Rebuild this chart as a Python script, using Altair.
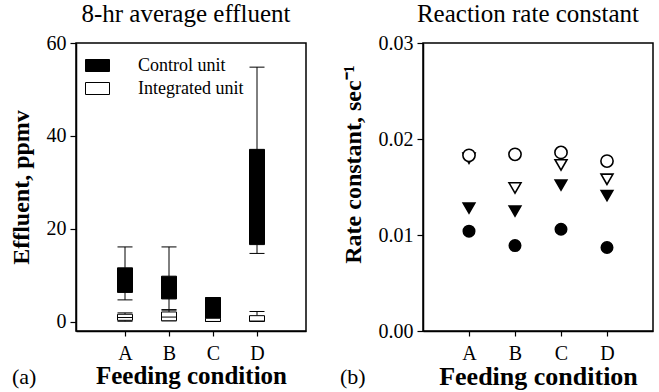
import altair as alt
import pandas as pd

# ---------------- data ----------------
conds = ["A", "B", "C", "D"]
cond_pos = [1, 2, 3, 4]
units = ["Control unit", "Integrated unit"]

# panel (a): box plots of 8-hr average effluent (ppmv)
ctrl_low = [4.7, 2.6, 0.8, 14.7]
ctrl_q1 = [6.3, 4.9, 0.8, 16.6]
ctrl_med = [9.0, 7.5, 3.0, 25.0]
ctrl_q3 = [11.6, 9.8, 5.2, 37.1]
ctrl_high = [16.1, 16.1, 5.2, 54.8]

int_low = [0.1, 0.2, 0.05, 0.1]
int_q1 = [0.3, 0.2, 0.05, 0.1]
int_med = [0.9, 1.0, 0.05, 0.1]
int_q3 = [1.6, 2.1, 0.75, 1.3]
int_high = [1.9, 2.5, 0.75, 2.2]

# panel (b): reaction rate constants (1/sec)
series = ["Control, filled circle", "Control, filled triangle",
          "Integrated, open triangle", "Integrated, open circle"]
k_filled_circle = [0.0104, 0.0089, 0.0106, 0.0087]
k_filled_tri = [0.0128, 0.0125, 0.0152, 0.0141]
k_open_tri = [0.0180, 0.0149, 0.0173, 0.0158]
k_open_circle = [0.0183, 0.0184, 0.0186, 0.0177]

panel_titles = ["8-hr average effluent", "Reaction rate constant"]
panel_tags = ["(a)", "(b)"]
y_titles = ["Effluent, ppmv", "Rate constant, sec\u207b\u00b9"]
x_title = "Feeding condition"
yticks_a = [0, 20, 40, 60]
yticks_b = [0.00, 0.01, 0.02, 0.03]

FONT = "Liberation Serif"
W, H = 230, 288

# ---------------- tables ----------------
rows = []
for u, lo, q1, md, q3, hi in [
    (units[0], ctrl_low, ctrl_q1, ctrl_med, ctrl_q3, ctrl_high),
    (units[1], int_low, int_q1, int_med, int_q3, int_high),
]:
    for i, c in enumerate(conds):
        rows.append(dict(cond=c, pos=cond_pos[i], unit=u, low=lo[i], q1=q1[i],
                         med=md[i], q3=q3[i], high=hi[i]))
box_df = pd.DataFrame(rows)

pts = []
for s, vals in zip(series, [k_filled_circle, k_filled_tri, k_open_tri, k_open_circle]):
    for i, c in enumerate(conds):
        pts.append(dict(cond=c, pos=cond_pos[i], series=s, k=vals[i]))
pt_df = pd.DataFrame(pts)

label_expr = "[" + ",".join("'%s'" % c for c in conds) + "][datum.value - 1]"

x_scale = alt.Scale(domain=[0, 5], nice=False, zero=False)


def x_axis(fs):
    return alt.Axis(values=cond_pos, labelExpr=label_expr, title=x_title,
                    tickSize=5, labelPadding=7, titlePadding=0, titleFontSize=fs)


# ---------------- panel (a) ----------------
base_a = alt.Chart(box_df)
ya_scale = alt.Scale(domain=[-2, 60], nice=False, zero=False)
ya_axis = alt.Axis(values=yticks_a, title=y_titles[0], titlePadding=13,
                   labelPadding=4)

whisk_lo = base_a.mark_rule(color="black", strokeWidth=1).encode(
    x=alt.X("pos:Q", scale=x_scale, axis=x_axis(25)),
    y=alt.Y("low:Q", scale=ya_scale, axis=ya_axis), y2="q1:Q")
whisk_hi = base_a.mark_rule(color="black", strokeWidth=1).encode(
    x="pos:Q", y="q3:Q", y2="high:Q")
cap_hi = base_a.mark_rule(color="black", strokeWidth=1, xOffset=-7.5, x2Offset=7.5).encode(
    x="pos:Q", x2="pos:Q", y="high:Q")
cap_lo = base_a.mark_rule(color="black", strokeWidth=1, xOffset=-7.5, x2Offset=7.5).encode(
    x="pos:Q", x2="pos:Q", y="low:Q")
boxes = base_a.mark_bar(size=15, stroke="black", strokeWidth=1).encode(
    x="pos:Q", y="q1:Q", y2="q3:Q",
    fill=alt.Fill("unit:N",
                  scale=alt.Scale(domain=units, range=["black", "white"]),
                  legend=alt.Legend(title=None, orient="none", legendX=9, legendY=10,
                                    symbolType="M-1,-0.5L1,-0.5L1,0.5L-1,0.5Z",
                                    symbolSize=576, symbolStrokeColor="black",
                                    symbolStrokeWidth=1, labelFont=FONT,
                                    labelFontSize=18, labelOffset=28,
                                    labelColor="black", rowPadding=1, padding=0)),
    order=alt.Order("unit:N"))
medians = base_a.mark_rule(color="black", strokeWidth=1, xOffset=-7.5, x2Offset=7.5).encode(
    x="pos:Q", x2="pos:Q", y="med:Q")
tag_a = alt.Chart(pd.DataFrame({"t": [panel_tags[0]]})).mark_text(
    font=FONT, fontSize=22, align="left", baseline="middle", color="black").encode(
    text="t:N", x=alt.value(-64), y=alt.value(334))

panel_a = alt.layer(whisk_lo, whisk_hi, cap_hi, cap_lo, boxes, medians, tag_a).properties(
    width=W, height=H,
    title=alt.TitleParams(panel_titles[0], offset=6, dx=-5, font=FONT))

# ---------------- panel (b) ----------------
yb_scale = alt.Scale(domain=[0, 0.03], nice=False, zero=False)
yb_axis = alt.Axis(values=yticks_b, format=".2f", title=y_titles[1], titlePadding=13,
                   labelPadding=4, titleY=121)
points = alt.Chart(pt_df).mark_point(strokeWidth=1.6, opacity=1, stroke="black").encode(
    x=alt.X("pos:Q", scale=x_scale, axis=x_axis(26)),
    y=alt.Y("k:Q", scale=yb_scale, axis=yb_axis),
    shape=alt.Shape("series:N", scale=alt.Scale(
        domain=series, range=["circle", "triangle-down", "triangle-down", "circle"]),
        legend=None),
    fill=alt.Fill("series:N", scale=alt.Scale(
        domain=series, range=["black", "black", "white", "white"]), legend=None),
    size=alt.Size("series:N", scale=alt.Scale(
        domain=series, range=[130, 150, 150, 105]), legend=None),
)
tag_b = alt.Chart(pd.DataFrame({"t": [panel_tags[1]]})).mark_text(
    font=FONT, fontSize=22, align="left", baseline="middle", color="black").encode(
    text="t:N", x=alt.value(-83), y=alt.value(334))

panel_b = alt.layer(points, tag_b).properties(
    width=W, height=H,
    title=alt.TitleParams(panel_titles[1], offset=6, dx=-10, font=FONT))

chart = alt.hconcat(panel_a, panel_b, spacing=32).resolve_scale(
    fill="independent", shape="independent", size="independent", y="independent"
).properties(
    padding={"left": 8, "top": 1, "right": 0, "bottom": 0}
).configure(font=FONT).configure_view(
    stroke="black", strokeWidth=1.5
).configure_axis(
    grid=False, labelFont=FONT, labelFontSize=20, labelColor="black",
    titleFont=FONT, titleFontSize=24, titleFontWeight="bold", titleColor="black",
    tickColor="black", domainColor="black", tickSize=6, domainWidth=1.5, tickWidth=1.2
).configure_title(
    font=FONT, fontSize=25, fontWeight="normal", color="black", anchor="middle"
).configure_legend(
    labelFont=FONT
).configure_text(font=FONT)

chart.save("out.html", embed_options={"renderer": "svg", "actions": False})
